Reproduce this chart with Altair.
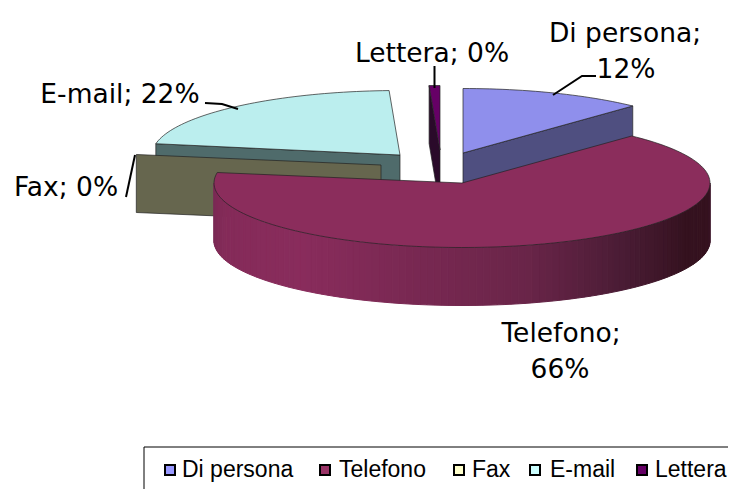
import math
import altair as alt
import pandas as pd

# ---- chart values ----
categories = ["Di persona", "Telefono", "Fax", "E-mail", "Lettera"]
shares = [12.0, 65.6, 0.2, 21.5, 0.7]
share_labels = ["12%", "66%", "0%", "22%", "0%"]
swatch_colors = ["#9999ff", "#993366", "#ffffcc", "#ccffff", "#660066"]

# ---- styling / layout ----
top_colors = ["#8f8fec", "#8b2d5c", "#66664e", "#bbeeee", "#660066"]
side_colors = ["#4f4f80", "#7a2a55", "#66664e", "#4f6b6b", "#2a0a2a"]
apex = {"Di persona": (463, 153), "Telefono": (462, 183), "Fax": (381, 165),
        "E-mail": (400, 155), "Lettera": (440, 150)}
RX, RY, DEPTH = 248, 64.5, 58
shade_stops = [(0.0, "#3c1428"), (0.05, "#35121f"), (0.15, "#35121f"), (0.28, "#4a1c35"), (0.42, "#6a2549"),
               (0.72, "#892c5c"), (0.9, "#842b59"), (1.0, "#7a2a55")]
W, H = 720, 481

def rim(name, deg, drop=0):
    ax, ay = apex[name]
    t = math.radians(deg)
    return ax + RX * math.sin(t), ay - RY * math.cos(t) + drop

def hex_mix(a, b, f):
    ca = [int(a[i:i + 2], 16) for i in (1, 3, 5)]
    cb = [int(b[i:i + 2], 16) for i in (1, 3, 5)]
    return "#" + "".join(f"{round(x + (y - x) * f):02x}" for x, y in zip(ca, cb))

def shade(f):
    for (p, c), (q, d) in zip(shade_stops, shade_stops[1:]):
        if f <= q:
            return hex_mix(c, d, (f - p) / (q - p))
    return shade_stops[-1][1]

rows = []
pid = 0
def poly(points, fill, stroke, sw):
    global pid
    pid += 1
    closed = list(points) + [points[0]]
    for i, (x, y) in enumerate(closed):
        rows.append({"id": pid, "i": i, "x": x, "y": y, "fill": fill, "stroke": stroke, "sw": sw})

edges = {}
acc = 0.0
for c, s in zip(categories, shares):
    edges[c] = (acc * 3.6, (acc + s) * 3.6)
    acc += s

DARK = "#222222"
def radial_face(c, deg, col):
    ax, ay = apex[c]
    r = rim(c, deg)
    poly([(ax, ay), r, (r[0], r[1] + DEPTH), (ax, ay + DEPTH)], col, DARK, 0.7)

def top_face(c, col):
    a, b = edges[c]
    n = max(2, int((b - a) / 1.5))
    pts = [apex[c]] + [rim(c, a + (b - a) * k / n) for k in range(n + 1)]
    poly(pts, col, DARK, 0.7)

# painter's order, back to front
radial_face("E-mail", edges["E-mail"][0], side_colors[3])
top_face("E-mail", top_colors[3])
radial_face("Lettera", edges["Lettera"][0], side_colors[4])
top_face("Lettera", top_colors[4])
radial_face("Fax", edges["Fax"][0], side_colors[2])
radial_face("Di persona", edges["Di persona"][1], side_colors[0])
top_face("Di persona", top_colors[0])

# Telefono outer wall as narrow shaded strips
a, b = edges["Telefono"]
steps = 110
low, high = 90, min(b, 270)
for k in range(steps):
    d0 = low + (high - low) * k / steps
    d1 = low + (high - low) * (k + 1) / steps
    p0, p1 = rim("Telefono", d0), rim("Telefono", d1)
    col = shade((k + 0.5) / steps)
    poly([p0, p1, (p1[0], p1[1] + DEPTH), (p0[0], p0[1] + DEPTH)], col, col, 1)
top_face("Telefono", top_colors[1])

shapes = pd.DataFrame(rows)

xs = alt.Scale(domain=[8, 8 + W], range=[0, W], nice=False, zero=False)
ys = alt.Scale(domain=[8, 8 + H], range=[0, H], nice=False, zero=False)
X = alt.X("x:Q", scale=xs, axis=None)
Y = alt.Y("y:Q", scale=ys, axis=None)

faces = alt.Chart(shapes).mark_line(interpolate="linear", strokeJoin="round").encode(
    x=X, y=Y, detail="id:N", order="i:Q",
    fill=alt.Fill("fill:N", scale=None),
    stroke=alt.Stroke("stroke:N", scale=None),
    strokeWidth=alt.StrokeWidth("sw:Q", scale=None),
)

# leader lines
leaders = pd.DataFrame(
    [dict(id=k, i=i, x=p[0], y=p[1]) for k, pts in enumerate([
        [(205, 103), (222, 104), (238, 109)],
        [(135, 155), (126, 197)],
        [(434.5, 66), (434.5, 88)],
        [(553, 95), (582, 76), (596, 76)],
    ]) for i, p in enumerate(pts)]
)
leader_marks = alt.Chart(leaders).mark_line(color="#000000", strokeWidth=2).encode(
    x=X, y=Y, detail="id:N", order="i:Q")

# data labels
label_rows = [
    (f"{categories[0]};", 625, 42), (share_labels[0], 626, 78),
    (f"{categories[1]};", 561, 342), (share_labels[1], 560, 378),
    (f"{categories[2]}; {share_labels[2]}", 66, 196),
    (f"{categories[3]}; {share_labels[3]}", 120, 103),
    (f"{categories[4]}; {share_labels[4]}", 432, 62),
]
labels = pd.DataFrame(label_rows, columns=["t", "x", "y"])
label_marks = alt.Chart(labels).mark_text(
    font="DejaVu Sans", fontSize=26.5, align="center", baseline="alphabetic", color="#000000"
).encode(x=X, y=Y, text="t:N")

# legend
leg_x = [170, 325, 459, 535, 642]
leg_tx = [182, 339, 472, 550, 655]
leg = pd.DataFrame({"c": categories, "x": leg_x, "y": [470] * 5, "f": swatch_colors, "tx": leg_tx})
leg["ty"] = 477
box = pd.DataFrame([dict(id=0, i=0, x=144, y=489), dict(id=0, i=1, x=144, y=447),
                    dict(id=0, i=2, x=736, y=447)])
box_marks = alt.Chart(box).mark_line(color="#000000", strokeWidth=1, clip=True).encode(
    x=X, y=Y, detail="id:N", order="i:Q")
swatches = alt.Chart(leg).mark_point(shape="square", filled=True, size=100, stroke="#000000",
                                     strokeWidth=2, opacity=1).encode(
    x=X, y=Y, fill=alt.Fill("f:N", scale=None))
leg_text = alt.Chart(leg).mark_text(font="Liberation Sans", fontSize=23, align="left",
                                    baseline="alphabetic", color="#000000").encode(
    x=alt.X("tx:Q", scale=xs, axis=None), y=alt.Y("ty:Q", scale=ys, axis=None), text="c:N")

chart = alt.layer(faces, leader_marks, label_marks, box_marks, swatches, leg_text).properties(
    width=W, height=H, padding=0, autosize=alt.AutoSizeParams(type="none"),
    background="#ffffff",
).configure_view(stroke=None)

chart.save("out.html", embed_options={"renderer": "svg", "actions": False})
